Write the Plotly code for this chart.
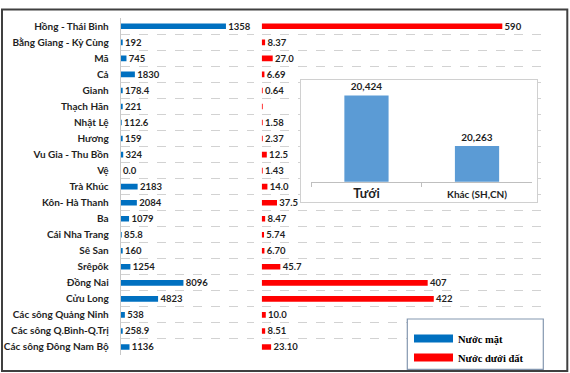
import plotly.graph_objects as go

# ---------------- data ----------------
basins = ["Hồng - Thái Bình", "Bằng Giang - Kỳ Cùng", "Mã", "Cả", "Gianh", "Thạch Hãn",
          "Nhật Lệ", "Hương", "Vu Gia - Thu Bồn", "Vệ", "Trà Khúc", "Kôn- Hà Thanh", "Ba",
          "Cái Nha Trang", "Sê San", "Srêpôk", "Đồng Nai", "Cửu Long", "Các sông Quảng Ninh",
          "Các sông Q.Bình-Q.Trị", "Các sông Đông Nam Bộ"]
surface_water = [13580, 192, 745, 1830, 178.4, 221, 112.6, 159, 324, 0.0, 2183, 2084, 1079,
                 85.8, 160, 1254, 8096, 4823, 538, 258.9, 1136]
surface_labels = ["1358", "192", "745", "1830", "178.4", "221", "112.6", "159", "324", "0.0",
                  "2183", "2084", "1079", "85.8", "160", "1254", "8096", "4823", "538",
                  "258.9", "1136"]
ground_water = [590, 8.37, 27.0, 6.69, 0.64, 0.5, 1.58, 2.37, 12.5, 1.43, 14.0, 37.5, 8.47,
                5.74, 6.70, 45.7, 407, 422, 10.0, 8.51, 23.10]
ground_labels = ["590", "8.37", "27.0", "6.69", "0.64", "", "1.58", "2.37", "12.5", "1.43",
                 "14.0", "37.5", "8.47", "5.74", "6.70", "45.7", "407", "422", "10.0",
                 "8.51", "23.10"]
use_categories = ["Tưới", "Khác (SH,CN)"]
use_values = [20424, 20263]
use_labels = ["20,424", "20,263"]
legend_names = ["Nước mặt", "Nước dưới đất"]

# ---------------- style ----------------
W, H = 570, 373
BLUE = "#0070C0"
RED = "#FF0000"
INSET_BLUE = "#5B9BD5"
TXT = "#1f1f1f"
FONT = "Lato"


def px(x):
    return x / W


def py(y):
    return 1 - y / H


fig = go.Figure()

fig.add_trace(go.Bar(
    y=basins, x=surface_water, orientation="h", width=0.35,
    marker=dict(color=BLUE, line=dict(width=0)),
    text=surface_labels, texttemplate="\u00a0%{text}", textposition="outside",
    constraintext="none", cliponaxis=True,
    textfont=dict(family=FONT, size=9.5, color=TXT, weight="bold"),
    xaxis="x", yaxis="y", showlegend=False, hoverinfo="skip"))

fig.add_trace(go.Bar(
    y=basins, x=ground_water, orientation="h", width=0.35,
    marker=dict(color=RED, line=dict(width=0)),
    text=ground_labels, texttemplate="\u00a0%{text}", textposition="outside",
    constraintext="none", cliponaxis=True,
    textfont=dict(family=FONT, size=9.5, color=TXT, weight="bold"),
    xaxis="x2", yaxis="y2", showlegend=False, hoverinfo="skip"))

# inset frame subplot (empty trace so the subplot exists)
fig.add_trace(go.Scatter(x=[None], y=[None], xaxis="x3", yaxis="y3",
                         showlegend=False, hoverinfo="skip"))

fig.add_trace(go.Bar(
    x=use_categories, y=use_values, width=0.4,
    marker=dict(color=INSET_BLUE, line=dict(width=0)),
    text=use_labels, textposition="outside", constraintext="none", cliponaxis=False,
    textfont=dict(family=FONT, size=10, color=TXT, weight="bold"),
    xaxis="x4", yaxis="y4", showlegend=False, hoverinfo="skip"))

# legend entries
for name, col in zip(legend_names, [BLUE, RED]):
    fig.add_trace(go.Scatter(x=[None], y=[None], mode="lines", name=name,
                             line=dict(color=col, width=8),
                             xaxis="x", yaxis="y", hoverinfo="skip"))

grid = dict(showgrid=True, gridcolor="#d2d2d2", griddash="dash", gridwidth=1,
            tickson="boundaries", ticks="", type="category",
            categoryorder="array", categoryarray=basins, range=[20.5, -0.5],
            zeroline=False)

fig.update_layout(
    width=W, height=H,
    margin=dict(l=0, r=0, t=0, b=0),
    paper_bgcolor="white", plot_bgcolor="white",
    font=dict(family=FONT, color=TXT),
    xaxis=dict(domain=[px(120.7), px(254)], range=[0, 17200], visible=False, anchor="y"),
    yaxis=dict(domain=[py(355.0), py(18.3)], anchor="x", showline=True,
               linecolor="#c8c8c8", linewidth=1, ticklabelstandoff=9,
               tickfont=dict(family=FONT, size=10, color=TXT, weight="bold"), **grid),
    xaxis2=dict(domain=[px(261.7), px(547)], range=[0, 699.6], visible=False, anchor="y2"),
    yaxis2=dict(domain=[py(355.0), py(18.3)], anchor="x2", showline=False,
                showticklabels=False, **grid),
    xaxis3=dict(domain=[px(301), px(537.3)], range=[0, 1], anchor="y3", showline=True,
                mirror=True, linecolor="#d0d0d0", linewidth=1, showgrid=False,
                zeroline=False, showticklabels=False, ticks=""),
    yaxis3=dict(domain=[py(201.7), py(80)], range=[0, 1], anchor="x3", showline=True,
                mirror=True, linecolor="#d0d0d0", linewidth=1, showgrid=False,
                zeroline=False, showticklabels=False, ticks=""),
    xaxis4=dict(domain=[px(311.2), px(532.3)], anchor="y4", type="category",
                categoryorder="array", categoryarray=use_categories, range=[-0.5, 1.5],
                showline=True, linecolor="#bfbfbf", linewidth=1, ticks="outside",
                tickson="boundaries", ticklen=4, tickcolor="#bfbfbf", showgrid=False,
                zeroline=False, ticklabelstandoff=3,
                labelalias={use_categories[0]:
                            '<span style="font-size:13px">' + use_categories[0] + '</span>'},
                tickfont=dict(family=FONT, size=10, color=TXT, weight="bold")),
    yaxis4=dict(domain=[py(181.7), py(87.2)], anchor="x4", range=[20150, 20450],
                visible=False),
    legend=dict(x=px(409), y=py(324), xanchor="left", yanchor="top",
                bgcolor="rgba(0,0,0,0)", borderwidth=0,
                font=dict(family="Liberation Serif", size=10.5, color="black", weight="bold"),
                itemwidth=39, tracegroupgap=0),
    shapes=[
        # legend frame
        dict(type="rect", xref="paper", yref="paper", x0=px(407.3), x1=px(543.3),
             y0=py(369.3), y1=py(319), line=dict(color="#8497B0", width=1.2),
             fillcolor="white", layer="above"),
        # outer frame
        dict(type="rect", xref="paper", yref="paper", x0=px(2), x1=px(567.3),
             y0=py(371), y1=py(9.5), line=dict(color="#404040", width=2),
             layer="above"),
    ],
)

fig.write_html("out.html", config={"displayModeBar": False},
               post_script="document.body.style.margin='0';")
